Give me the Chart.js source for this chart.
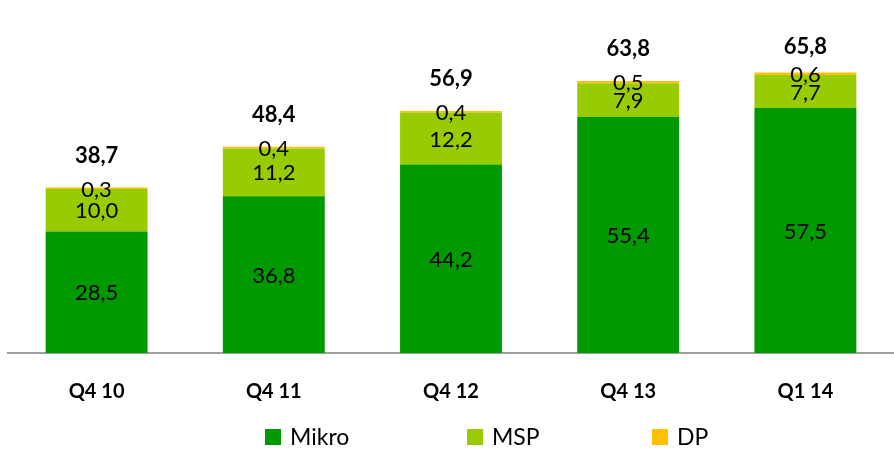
<!DOCTYPE html>
<html>
<head>
<meta charset="utf-8">
<script src="https://cdn.jsdelivr.net/npm/chart.js@4"></script>
<style>
  html, body { margin: 0; padding: 0; background: #fff; }
  #wrap { width: 894px; height: 455px; position: relative; }
</style>
</head>
<body>
<div id="wrap"><canvas id="chart"></canvas></div>
<script>
var categories = ["Q4 10", "Q4 11", "Q4 12", "Q4 13", "Q1 14"];
var mikro = [28.5, 36.8, 44.2, 55.4, 57.5];
var msp = [10.0, 11.2, 12.2, 7.9, 7.7];
var dp = [0.3, 0.4, 0.4, 0.5, 0.6];
var totals = [38.7, 48.4, 56.9, 63.8, 65.8];

var fontFamily = "Lato, 'Noto Sans', sans-serif";

var fmt = function(v) {
  return v.toFixed(1).replace(".", ",");
};

// labels inside the bars, totals on top, and the legend row
var labelPlugin = {
  id: "labels",
  afterDatasetsDraw: function(chart) {
    var ctx = chart.ctx;
    ctx.save();
    ctx.fillStyle = "#000";
    ctx.textAlign = "center";
    ctx.textBaseline = "middle";

    var m0 = chart.getDatasetMeta(0);
    var m1 = chart.getDatasetMeta(1);
    var m2 = chart.getDatasetMeta(2);

    ctx.font = "22px " + fontFamily;
    for (let i = 0; i < categories.length; i++) {
      var b0 = m0.data[i];
      var b1 = m1.data[i];
      var b2 = m2.data[i];
      ctx.fillText(fmt(mikro[i]), b0.x, (b0.y + b0.base) / 2 + 1);
      ctx.fillText(fmt(msp[i]), b1.x, (b1.y + b1.base) / 2 + 1);
      ctx.fillText(fmt(dp[i]), b2.x, b2.y + 2);
    }

    ctx.font = "bold 22px " + fontFamily;
    for (let i = 0; i < categories.length; i++) {
      var top = m2.data[i];
      var y = Math.max(top.y - 32, 47);
      ctx.fillText(fmt(totals[i]), top.x, y);
    }

    // legend
    var items = chart.data.datasets;
    var boxX = [265, 467, 652];
    ctx.font = "23px " + fontFamily;
    ctx.textAlign = "left";
    for (let k = 0; k < items.length; k++) {
      ctx.fillStyle = items[k].backgroundColor;
      ctx.fillRect(boxX[k], 429, 16, 16);
      ctx.fillStyle = "#000";
      ctx.fillText(items[k].label, boxX[k] + 25, 438);
    }
    ctx.restore();
  }
};

const data = {
  labels: categories,
  datasets: [
    { label: "Mikro", data: mikro, backgroundColor: "#009900" },
    { label: "MSP", data: msp, backgroundColor: "#99cc00" },
    { label: "DP", data: dp, backgroundColor: "#ffc000" },
  ],
};

const config = {
  type: "bar",
  data: data,
  options: {
    responsive: false,
    animation: false,
    categoryPercentage: 1,
    barPercentage: 0.575,
    layout: { padding: { left: 8, right: 0, top: 12, bottom: 24 } },
    plugins: {
      legend: { display: false },
      tooltip: { enabled: false },
    },
    scales: {
      x: {
        stacked: true,
        grid: { display: false, drawTicks: false },
        border: { display: true, color: "#a0a0a0", width: 2 },
        ticks: {
          color: "#000",
          padding: 27,
          font: { family: fontFamily, size: 20, weight: "bold" },
        },
      },
      y: {
        stacked: true,
        display: false,
        min: 0,
        max: 80,
      },
    },
  },
  plugins: [labelPlugin],
};

var canvas = document.getElementById("chart");
canvas.width = 894;
canvas.height = 455;
var myChart = new Chart(canvas, config);
</script>
</body>
</html>
